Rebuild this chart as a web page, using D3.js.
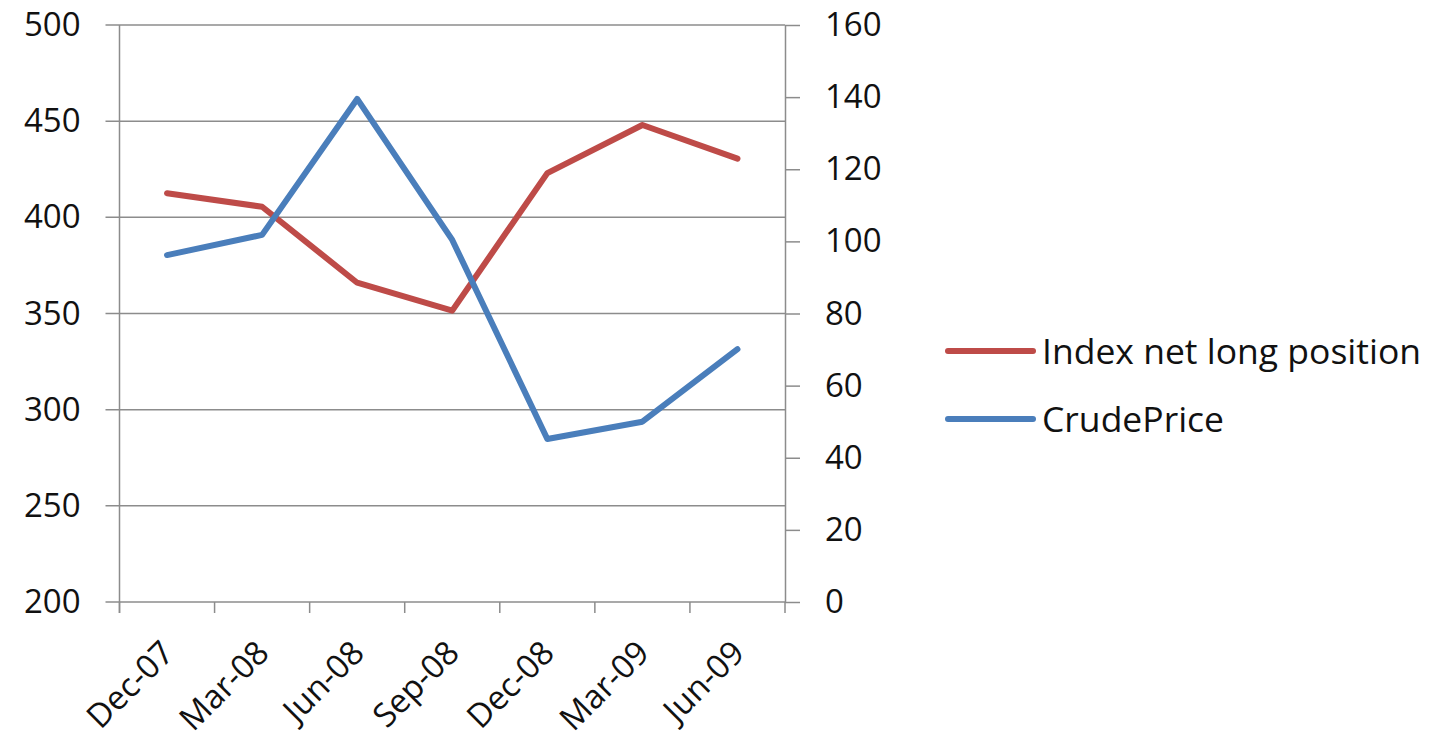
<!DOCTYPE html>
<html>
<head>
<meta charset="utf-8">
<script src="https://cdn.jsdelivr.net/npm/d3@7"></script>
<style>
  body { margin: 0; background: #fff; }
  text { font-family: "Open Sans", sans-serif; fill: #111; }
</style>
</head>
<body>
<div id="vis-container"></div>
<script>
const months = ["Dec-07", "Mar-08", "Jun-08", "Sep-08", "Dec-08", "Mar-09", "Jun-09"];
const indexNetLong = [412.5, 405.5, 366, 351.5, 423, 448, 430.5];
const crudePrice = [96.2, 101.8, 139.5, 100.4, 45.2, 50, 70.1];
const leftTicks = [200, 250, 300, 350, 400, 450, 500];
const rightTicks = [0, 20, 40, 60, 80, 100, 120, 140, 160];
const seriesNames = ["Index net long position", "CrudePrice"];

const width = 1434, height = 744;
const plot = { left: 119.5, right: 785, top: 25, bottom: 602 };
const gridColor = "#8c8c8c";
const colors = ["#be4b48", "#4a7ebb"];

const svg = d3.select("#vis-container")
  .append("svg")
  .attr("width", width)
  .attr("height", height);

const x = d3.scaleBand()
  .domain(months)
  .range([plot.left, plot.right]);

const yL = d3.scaleLinear().domain([200, 500]).range([plot.bottom, plot.top]);
const yR = d3.scaleLinear().domain([0, 160]).range([plot.bottom, plot.top]);

// gridlines (left axis)
svg.append("g")
  .selectAll("line")
  .data(leftTicks)
  .join("line")
  .attr("x1", plot.left - 14)
  .attr("x2", plot.right)
  .attr("y1", d => yL(d))
  .attr("y2", d => yL(d))
  .attr("stroke", gridColor)
  .attr("stroke-width", 1.5);

// left axis
const leftAxis = svg.append("g")
  .attr("transform", `translate(${plot.left},0)`)
  .call(d3.axisLeft(yL).tickValues(leftTicks).tickSize(14).tickPadding(25));
leftAxis.select(".domain").remove();
leftAxis.selectAll(".tick line").remove();
leftAxis.append("line")
  .attr("y1", plot.top).attr("y2", plot.bottom + 11)
  .attr("stroke", gridColor).attr("stroke-width", 1.5);

// right axis
const rightAxis = svg.append("g")
  .attr("transform", `translate(${plot.right},0)`)
  .call(d3.axisRight(yR).tickValues(rightTicks).tickSize(15).tickPadding(25).tickSizeOuter(0));
rightAxis.select(".domain").attr("stroke", gridColor).attr("stroke-width", 1.5);
rightAxis.selectAll(".tick line").attr("stroke", gridColor).attr("stroke-width", 1.5);

svg.selectAll(".tick text")
  .style("font-family", '"Open Sans", sans-serif')
  .style("font-size", "33px")
  .attr("fill", "#111");

// category axis: ticks at band edges
const edges = d3.range(months.length + 1).map(i => plot.left + i * x.step());
svg.append("g")
  .selectAll("line")
  .data(edges)
  .join("line")
  .attr("x1", d => d).attr("x2", d => d)
  .attr("y1", plot.bottom).attr("y2", plot.bottom + 11)
  .attr("stroke", gridColor)
  .attr("stroke-width", 1.5);

svg.append("g")
  .selectAll("text")
  .data(months)
  .join("text")
  .attr("transform", d => `translate(${x(d) + x.bandwidth() / 2 - 8},638) rotate(-45)`)
  .attr("text-anchor", "end")
  .attr("dy", "0.72em")
  .style("font-size", "33px")
  .text(d => d);

// lines
const lineL = d3.line()
  .x((d, i) => x(months[i]) + x.bandwidth() / 2)
  .y(d => yL(d));
const lineR = d3.line()
  .x((d, i) => x(months[i]) + x.bandwidth() / 2)
  .y(d => yR(d));

svg.append("path")
  .datum(indexNetLong)
  .attr("fill", "none")
  .attr("stroke", colors[0])
  .attr("stroke-width", 6)
  .attr("stroke-linejoin", "round")
  .attr("stroke-linecap", "round")
  .attr("d", lineL);

svg.append("path")
  .datum(crudePrice)
  .attr("fill", "none")
  .attr("stroke", colors[1])
  .attr("stroke-width", 6)
  .attr("stroke-linejoin", "round")
  .attr("stroke-linecap", "round")
  .attr("d", lineR);

// legend
const legend = svg.append("g")
  .selectAll("g")
  .data(seriesNames)
  .join("g")
  .attr("transform", (d, i) => `translate(948,${351 + i * 68})`);

legend.append("line")
  .attr("x1", 0).attr("x2", 85)
  .attr("stroke", (d, i) => colors[i])
  .attr("stroke-width", 6)
  .attr("stroke-linecap", "round");

legend.append("text")
  .attr("x", 94)
  .attr("dy", "0.36em")
  .style("font-size", "35.5px")
  .text(d => d);
</script>
</body>
</html>
